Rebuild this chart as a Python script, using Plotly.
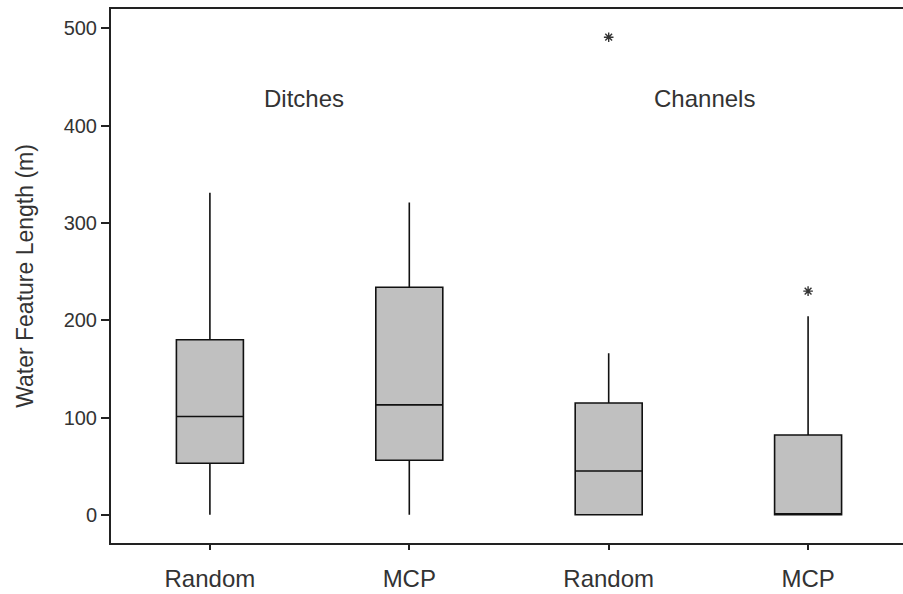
import plotly.graph_objects as go

categories = ["Random", "MCP", "Random", "MCP"]
groups = ["Ditches", "Ditches", "Channels", "Channels"]
lower_whisker = [0, 0, 0, 0]
q1 = [53, 56, 0, 0]
median = [101, 113, 45, 0]
q3 = [180, 234, 115, 82]
upper_whisker = [331, 321, 166, 204]
outlier_pos = [2, 3]
outlier_val = [491, 230]
group_labels = ["Ditches", "Channels"]
group_label_pos = [0.47, 2.48]
group_label_y = [428, 428]

FONT = "Liberation Sans, Arial, sans-serif"
TXT = "#333333"

fig = go.Figure()
for i in range(len(categories)):
    fig.add_trace(go.Box(
        x=[i], q1=[q1[i]], median=[median[i]], q3=[q3[i]],
        lowerfence=[lower_whisker[i]], upperfence=[upper_whisker[i]],
        width=0.336, fillcolor="#c0c0c0",
        line=dict(color="#111111", width=1.6),
        whiskerwidth=0, boxpoints=False, showlegend=False, hoverinfo="skip",
    ))

fig.add_trace(go.Scatter(
    x=outlier_pos, y=outlier_val, mode="markers",
    marker=dict(symbol="asterisk-open", size=8, color="#333333",
                line=dict(color="#333333", width=1.4)),
    showlegend=False, hoverinfo="skip",
))

for lab, xp, yp in zip(group_labels, group_label_pos, group_label_y):
    fig.add_annotation(x=xp, y=yp, text=lab, showarrow=False,
                       font=dict(family=FONT, size=24, color=TXT),
                       xanchor="center", yanchor="middle")

fig.update_layout(
    width=903, height=594,
    margin=dict(l=111, r=0, t=9, b=51),
    paper_bgcolor="white", plot_bgcolor="white",
    font=dict(family=FONT, color=TXT),
)
fig.update_xaxes(
    range=[-0.496, 3.476], tickmode="array",
    tickvals=list(range(len(categories))), ticktext=categories,
    showgrid=False, zeroline=False, showline=True, linecolor="#222222", linewidth=2,
    mirror=True, ticks="outside", ticklen=5, tickwidth=1.5, tickcolor="#222222",
    tickfont=dict(family=FONT, size=24, color=TXT), ticklabelstandoff=8,
)
fig.update_yaxes(
    range=[-29, 520], tickmode="array", tickvals=[0, 100, 200, 300, 400, 500],
    showgrid=False, zeroline=False, showline=True, linecolor="#222222", linewidth=2,
    ticks="outside", ticklen=8, tickwidth=1.5, tickcolor="#222222",
    tickfont=dict(family=FONT, size=20, color=TXT),
    title=dict(text="Water Feature Length (m)", font=dict(family=FONT, size=23, color=TXT), standoff=24),
)

fig.write_html("out.html", config={"displayModeBar": False},
               post_script="document.body.style.margin='0';document.body.style.overflow='hidden';")
